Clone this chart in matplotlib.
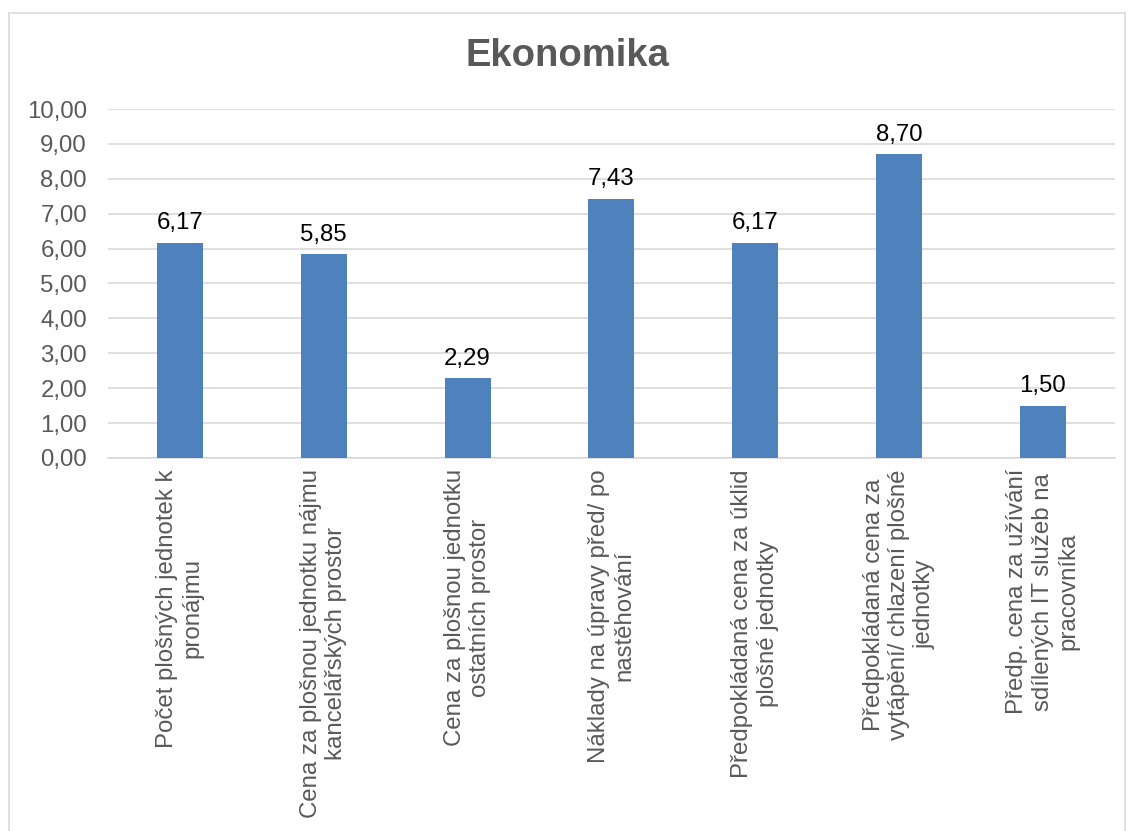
import matplotlib.pyplot as plt
import matplotlib.patches as mpatches
import numpy as np

plt.rcParams['font.family'] = ['Liberation Sans', 'DejaVu Sans']

# --- data ---
categories = [
    "Počet plošných jednotek k\npronájmu",
    "Cena za plošnou jednotku nájmu\nkancelářských prostor",
    "Cena za plošnou jednotku\nostatních prostor",
    "Náklady na úpravy před/ po\nnastěhování",
    "Předpokládaná cena za úklid\nplošné jednotky",
    "Předpokládaná cena za\nvytápění/ chlazení plošné\njednotky",
    "Předp. cena za užívání\nsdílených IT služeb na\npracovníka",
]
values = [6.17, 5.85, 2.29, 7.43, 6.17, 8.70, 1.50]
yticks = np.arange(0, 11, 1)

grey = '#595959'
fs = 17.3

fig = plt.figure(figsize=(11.34, 8.31), dpi=100)
ax = fig.add_axes([0.0952, 0.4489, 0.8878, 0.4199])

x = np.arange(len(categories))
bars = ax.bar(x, values, width=0.32, color='#4f81bd', zorder=3)

for b, v in zip(bars, values):
    ax.annotate(f"{v:.2f}".replace('.', ','), (b.get_x() + b.get_width() / 2, v),
                xytext=(0, 6), textcoords='offset points',
                ha='center', va='bottom', fontsize=fs, color='black')

ax.set_xlim(-0.5, len(categories) - 0.5)
ax.set_ylim(0, 10)
ax.set_yticks(yticks)
ax.set_yticklabels([f"{t:.2f}".replace('.', ',') for t in yticks])
ax.set_xticks(x)
ax.set_xticklabels(categories, rotation=90, ha='center', va='top',
                   multialignment='center')
ax.tick_params(axis='y', length=0, pad=15, labelsize=fs, labelcolor=grey)
ax.tick_params(axis='x', length=0, pad=8, labelsize=fs, labelcolor=grey)

ax.grid(axis='y', color='#d9d9d9', linewidth=1.2, zorder=0)
for s in ['top', 'right', 'left']:
    ax.spines[s].set_visible(False)
ax.spines['bottom'].set_color('#d9d9d9')
ax.spines['bottom'].set_linewidth(1.2)

fig.text(0.5, 0.9326, "Ekonomika", ha='center', va='center',
         fontsize=27.5, fontweight='bold', color=grey)

# chart border
border = mpatches.Rectangle((9 / 1134, -0.1), 1116 / 1134, 1.1 - 13 / 831,
                            transform=fig.transFigure, fill=False,
                            edgecolor='#d9d9d9', linewidth=1.2)
fig.patches.append(border)

fig.savefig('out.png', dpi=100)
